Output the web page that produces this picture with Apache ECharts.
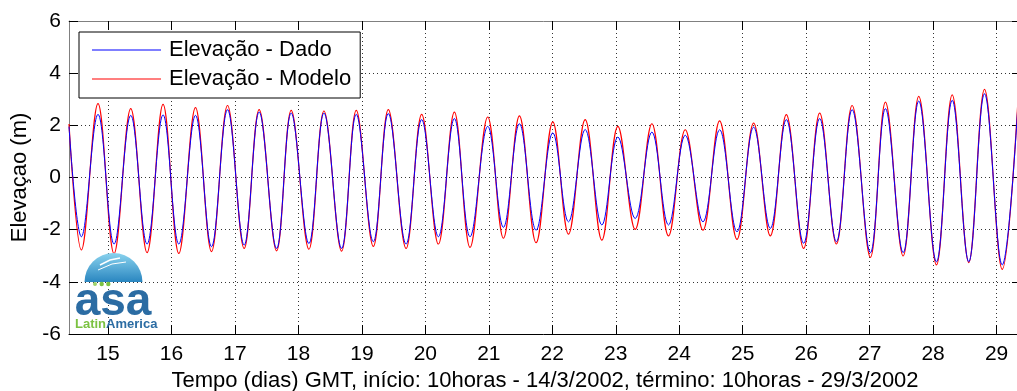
<!DOCTYPE html>
<html>
<head>
<meta charset="utf-8">
<script src="https://cdn.jsdelivr.net/npm/echarts@6/dist/echarts.min.js"></script>
<style>
html,body{margin:0;padding:0;background:#fff;}
#chart{width:1017px;height:391px;}
</style>
</head>
<body>
<div id="chart"></div>
<script>
// Times (days of March 2002, GMT) of the start, each crest/trough and the end
const tempo = [
  14.385, 14.580, 14.842, 15.095, 15.358, 15.615, 15.867, 16.115, 16.378, 16.630,
  16.883, 17.145, 17.381, 17.656, 17.886, 18.165, 18.402, 18.680, 18.911, 19.180,
  19.416, 19.696, 19.942, 20.205, 20.457, 20.704, 20.983, 21.230, 21.482, 21.745,
  22.008, 22.255, 22.518, 22.781, 23.033, 23.306, 23.569, 23.831, 24.095, 24.374,
  24.636, 24.910, 25.172, 25.435, 25.687, 25.960, 26.213, 26.476, 26.724, 27.012,
  27.249, 27.528, 27.774, 28.053, 28.301, 28.562, 28.810, 29.089, 29.345
];
// Elevation (m), observed data (blue)
const dado = [
  1.95, -2.27, 2.42, -2.55, 2.38, -2.55, 2.40, -2.55, 2.38, -2.65,
  2.60, -2.59, 2.51, -2.72, 2.47, -2.53, 2.47, -2.72, 2.42, -2.46,
  2.45, -2.55, 2.22, -2.27, 2.26, -2.27, 1.96, -1.91, 2.06, -2.02,
  1.71, -1.70, 1.84, -1.82, 1.55, -1.57, 1.74, -1.82, 1.62, -1.70,
  1.83, -2.08, 1.93, -1.95, 2.22, -2.52, 2.26, -2.46, 2.60, -2.88,
  2.64, -2.88, 2.93, -3.23, 2.96, -3.23, 3.21, -3.35, 3.12
];
// Elevation (m), model (red)
const modelo = [
  2.05, -2.78, 2.83, -2.92, 2.64, -2.88, 2.80, -2.91, 2.68, -2.84,
  2.76, -2.72, 2.60, -2.81, 2.57, -2.75, 2.55, -2.82, 2.57, -2.64,
  2.60, -2.72, 2.42, -2.55, 2.51, -2.68, 2.32, -2.33, 2.36, -2.50,
  2.13, -2.17, 2.22, -2.40, 1.96, -1.99, 2.06, -2.24, 1.83, -2.02,
  2.17, -2.37, 2.09, -2.24, 2.41, -2.72, 2.47, -2.55, 2.76, -3.06,
  2.89, -3.01, 3.11, -3.35, 3.17, -3.26, 3.38, -3.52, 3.30
];
const xTicks = [15,16,17,18,19,20,21,22,23,24,25,26,27,28,29];
const xMin = 14.385, xMax = 29.385;

const FONT = "'Liberation Sans', Arial, sans-serif";
const chart = echarts.init(document.getElementById('chart'), null, {renderer:'canvas'});

const dotted = {color:'#333', width:1, type:[1,3]};

const option = {
  animation:false,
  backgroundColor:'#fff',
  textStyle:{fontFamily:FONT},
  grid:{left:69, top:21, right:-4, bottom:57, containLabel:false, outerBoundsMode:'none'},
  legend:{
    data:['Elevação - Dado','Elevação - Modelo'],
    orient:'vertical',
    left:79, top:32,
    padding:[7,9,8,13],
    itemGap:7,
    icon:'rect',
    itemWidth:69, itemHeight:1.2,
    borderColor:'#000', borderWidth:1,
    backgroundColor:'#fff',
    textStyle:{fontFamily:FONT, fontSize:22, color:'#000', padding:[0,0,0,3]},
    z:10
  },
  xAxis:[{
    type:'value', position:'bottom', min:xMin, max:xMax,
    name:'Tempo (dias) GMT, início: 10horas - 14/3/2002, término: 10horas - 29/3/2002',
    nameLocation:'middle', nameGap:34,
    nameTextStyle:{fontFamily:FONT, fontSize:22, color:'#000'},
    axisLine:{show:true, onZero:false, lineStyle:{color:'#000', width:1}},
    axisTick:{show:true, inside:true, length:9, customValues:xTicks, lineStyle:{color:'#000'}},
    axisLabel:{show:true, customValues:xTicks, margin:10, fontFamily:FONT, fontSize:21, color:'#000',
      formatter:v=>String(Math.round(v))},
    splitLine:{show:true, lineStyle:dotted}
  },{
    type:'value', position:'top', min:xMin, max:xMax,
    axisLine:{show:true, onZero:false, lineStyle:{color:'#808080', width:1}},
    axisTick:{show:true, inside:true, length:9, customValues:xTicks, lineStyle:{color:'#000'}},
    axisLabel:{show:false},
    splitLine:{show:false}
  }],
  yAxis:[{
    type:'value', position:'left', min:-6, max:6, interval:2,
    name:'Elevaçao (m)', nameLocation:'middle', nameGap:38,
    nameTextStyle:{fontFamily:FONT, fontSize:22, color:'#000'},
    axisLine:{show:true, onZero:false, lineStyle:{color:'#808080', width:1}},
    axisTick:{show:true, inside:true, length:9, lineStyle:{color:'#000'}},
    axisLabel:{show:true, margin:8, fontFamily:FONT, fontSize:21, color:'#000'},
    splitLine:{show:true, lineStyle:dotted}
  },{
    type:'value', position:'right', min:-6, max:6, interval:2,
    axisLine:{show:true, onZero:false, lineStyle:{color:'#000', width:1}},
    axisTick:{show:true, inside:true, length:9, lineStyle:{color:'#000'}},
    axisLabel:{show:false},
    splitLine:{show:false}
  }],
  series:[{
    name:'Elevação - Dado', type:'line', xAxisIndex:0, yAxisIndex:0,
    data:tempo.map((t,i)=>[t,dado[i]]),
    showSymbol:false, symbol:'none', smooth:0.38,
    lineStyle:{color:'#0000ff', width:1}, itemStyle:{color:'#0000ff'},
    z:4
  },{
    name:'Elevação - Modelo', type:'line', xAxisIndex:0, yAxisIndex:0,
    data:tempo.map((t,i)=>[t,modelo[i]]),
    showSymbol:false, symbol:'none', smooth:0.38,
    lineStyle:{color:'#ff0000', width:1.2}, itemStyle:{color:'#ff0000'},
    z:3
  }],
  graphic:[
    {type:'sector', z:20, shape:{cx:113.5, cy:282, r0:0, r:29, startAngle:Math.PI, endAngle:2*Math.PI},
      style:{fill:new echarts.graphic.LinearGradient(0,0,0,1,[{offset:0,color:'#8ad3ee'},{offset:1,color:'#2a86c0'}])}},
    {type:'polyline', z:21, shape:{points:[[100,265],[110,260],[120,258]]}, style:{stroke:'#fff', lineWidth:1.5, fill:null}},
    {type:'polyline', z:21, shape:{points:[[98,270],[112,264],[126,262]]}, style:{stroke:'#fff', lineWidth:1, fill:null}},
    {type:'circle', z:21, shape:{cx:95, cy:284, r:2}, style:{fill:'#9fd36a'}},
    {type:'circle', z:21, shape:{cx:101.7, cy:284, r:2.2}, style:{fill:'#7cc242'}},
    {type:'circle', z:21, shape:{cx:108.3, cy:284, r:2.2}, style:{fill:'#7cc242'}},
    {type:'text', z:21, style:{text:'asa', x:113, y:302, align:'center', verticalAlign:'middle',
      font:"bold 46px 'Liberation Sans', Arial, sans-serif", fill:'#2b6ca3'}},
    {type:'text', z:21, style:{text:'{g|Latin}{b|America}', x:75, y:324, align:'left', verticalAlign:'middle',
      rich:{g:{fontFamily:FONT, fontWeight:'bold', fontSize:13, fill:'#7cc242'},
            b:{fontFamily:FONT, fontWeight:'bold', fontSize:13, fill:'#2b6ca3'}}}}
  ]
};
chart.setOption(option);
</script>
</body>
</html>
